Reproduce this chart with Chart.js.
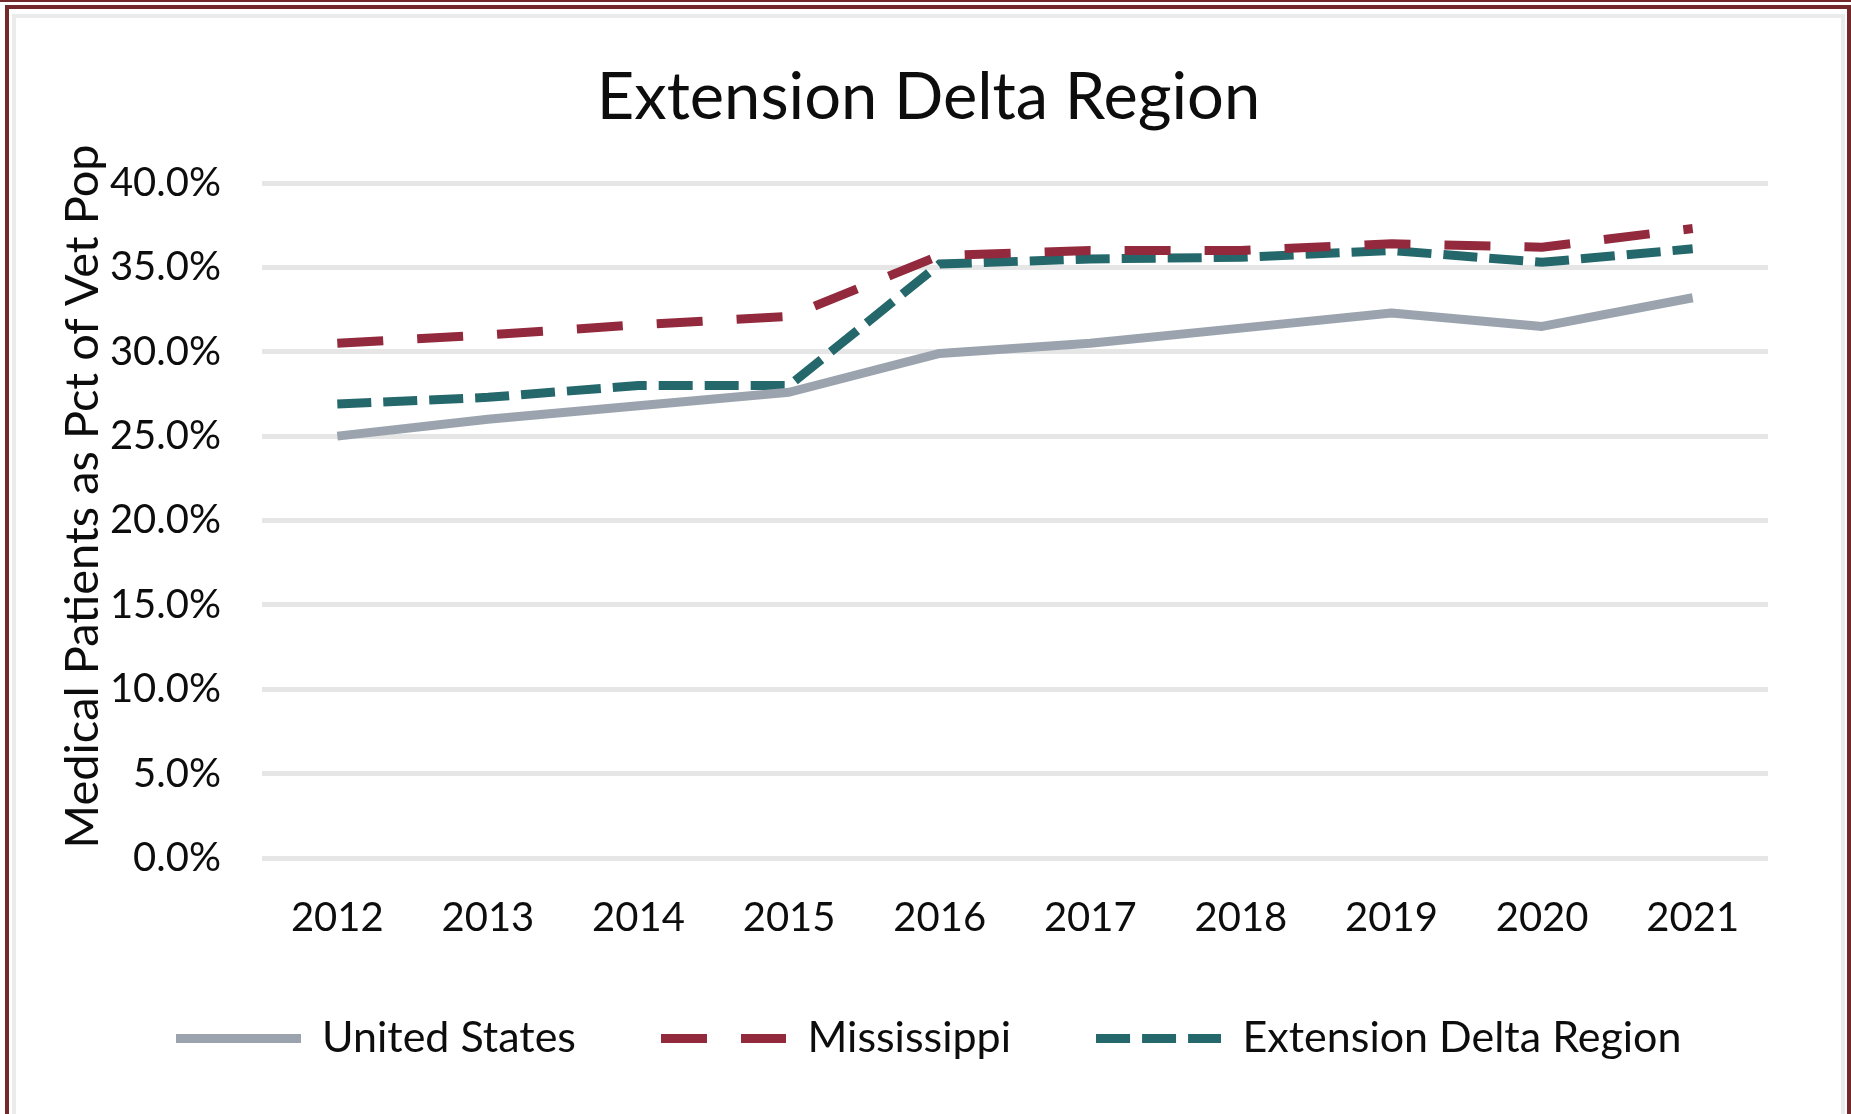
<!DOCTYPE html>
<html>
<head>
<meta charset="utf-8">
<script src="https://cdn.jsdelivr.net/npm/chart.js@4.4.0/dist/chart.umd.min.js"></script>
<style>
  html, body { margin: 0; padding: 0; background: #fff; overflow: hidden; }
  body { width: 1851px; height: 1114px; position: relative; }
  #topline { position: absolute; left: 0; top: 0; width: 1851px; height: 2px; background: #73292b; }
  #outer { position: absolute; left: 5px; top: 5px; width: 1846px; height: 1130px; box-sizing: border-box; border: 4px solid #73292b; }
  #inner { position: absolute; left: 12px; top: 14px; width: 1833px; height: 1120px; box-sizing: border-box; border: 4px solid #ebebeb; }
  #chart { position: absolute; left: 16px; top: 18px; }
</style>
</head>
<body>
<div id="topline"></div>
<div id="outer"></div>
<div id="inner"></div>
<canvas id="chart" width="1825" height="1096"></canvas>
<script>
// years on the x axis
const years = ['2012', '2013', '2014', '2015', '2016', '2017', '2018', '2019', '2020', '2021'];

// medical patients as % of veteran population
const unitedStates = [25.0, 26.0, 26.8, 27.6, 29.9, 30.5, 31.4, 32.3, 31.5, 33.2];
const mississippi = [30.5, 31.0, 31.6, 32.1, 35.7, 36.0, 36.0, 36.4, 36.2, 37.3];
const deltaRegion = [26.9, 27.3, 28.0, 28.0, 35.2, 35.5, 35.6, 36.0, 35.3, 36.1];

const FONT = 'Lato, "Open Sans", sans-serif';
const TEXT = '#0d0d0d';

const US_COLOR = '#9ba4ae';
const MS_COLOR = '#93293d';
const DR_COLOR = '#25686c';
const MS_DASH = [46, 34];
const DR_DASH = [34, 12];
const LINE_W = 9;
const SAMPLE_W = 125;

// legend samples: chart.js drops the dash when usePointStyle is on, so draw small images
function legendSample(color, dash) {
  const c = document.createElement('canvas');
  c.width = SAMPLE_W;
  c.height = LINE_W + 2;
  const g = c.getContext('2d');
  g.strokeStyle = color;
  g.lineWidth = LINE_W;
  g.setLineDash(dash);
  g.beginPath();
  g.moveTo(0, c.height / 2);
  g.lineTo(SAMPLE_W, c.height / 2);
  g.stroke();
  return c;
}

new Chart(document.getElementById('chart'), {
  type: 'line',
  data: {
    labels: years,
    datasets: [
      {
        label: 'United States',
        data: unitedStates,
        borderColor: US_COLOR,
        backgroundColor: US_COLOR,
        borderWidth: LINE_W,
        borderJoinStyle: 'round',
        pointRadius: 0,
        pointStyle: legendSample(US_COLOR, []),
        tension: 0
      },
      {
        label: 'Mississippi',
        data: mississippi,
        borderColor: MS_COLOR,
        backgroundColor: MS_COLOR,
        borderWidth: LINE_W,
        borderDash: MS_DASH,
        pointRadius: 0,
        pointStyle: legendSample(MS_COLOR, MS_DASH),
        tension: 0
      },
      {
        label: 'Extension Delta Region',
        data: deltaRegion,
        borderColor: DR_COLOR,
        backgroundColor: DR_COLOR,
        borderWidth: LINE_W,
        borderDash: DR_DASH,
        pointRadius: 0,
        pointStyle: legendSample(DR_COLOR, DR_DASH),
        tension: 0
      }
    ]
  },
  options: {
    responsive: false,
    animation: false,
    layout: { padding: { left: 0, right: 0, top: 0, bottom: 44 } },
    plugins: {
      title: {
        display: true,
        text: 'Extension Delta Region',
        color: TEXT,
        font: { family: FONT, size: 65, weight: 'normal' },
        padding: { top: 41, bottom: 46 }
      },
      legend: {
        position: 'bottom',
        labels: {
          usePointStyle: true,
          pointStyleWidth: SAMPLE_W,
          boxHeight: 43,
          padding: 85,
          color: TEXT,
          font: { family: FONT, size: 43 }
        }
      },
      tooltip: { enabled: false }
    },
    scales: {
      x: {
        offset: true,
        grid: { display: false, drawTicks: false },
        border: { display: false },
        ticks: {
          color: TEXT,
          padding: 36,
          font: { family: FONT, size: 40 }
        },
        afterFit: scale => { scale.height -= 46; }
      },
      y: {
        min: 0,
        max: 40,
        grid: { color: '#e6e6e6', lineWidth: 5, drawTicks: false },
        border: { display: false },
        ticks: {
          stepSize: 5,
          color: TEXT,
          padding: 41,
          font: { family: FONT, size: 40 },
          callback: v => v.toFixed(1) + '%'
        },
        title: {
          display: true,
          // leading spaces lift the rotated title a little, as in the original
          text: '\u00a0\u00a0\u00a0\u00a0Medical Patients as Pct of Vet Pop',
          color: TEXT,
          font: { family: FONT, size: 47 },
          padding: { top: 39, bottom: 0 }
        },
        afterFit: scale => { scale.width = 246; }
      },
      // empty right gutter so the title centres on the whole frame
      gutter: {
        type: 'linear',
        position: 'right',
        grid: { display: false, drawTicks: false },
        border: { display: false },
        ticks: { display: false },
        afterFit: scale => { scale.width = 73; }
      }
    }
  }
});
</script>
</body>
</html>
